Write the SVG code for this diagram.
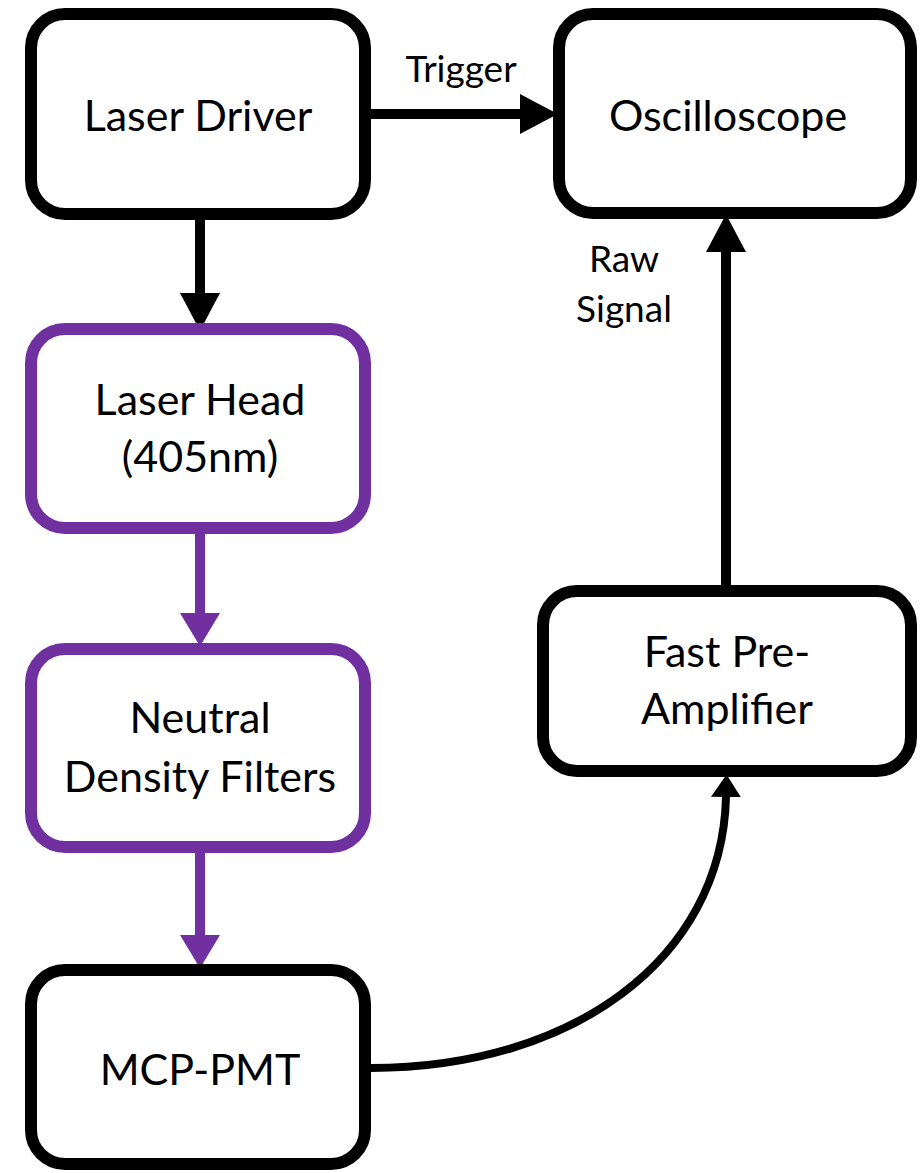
<svg xmlns="http://www.w3.org/2000/svg" width="924" height="1173" viewBox="0 0 924 1173">
<style>
.box{fill:#fff;stroke-width:12}
.blk{stroke:#000}
.pur{stroke:#7030a0}
text{font-family:"Lato","Open Sans","Liberation Sans",sans-serif;font-size:43px;fill:#000;text-anchor:middle}
.lbl{font-size:37px}
</style>
<defs>
<marker id="ahB" markerUnits="userSpaceOnUse" markerWidth="40" markerHeight="40" viewBox="0 0 36 36" refX="0" refY="18" orient="auto"><path d="M0,0 L34,18 L0,36 Z" fill="#000"/></marker>
<marker id="ahP" markerUnits="userSpaceOnUse" markerWidth="40" markerHeight="40" viewBox="0 0 36 36" refX="0" refY="18" orient="auto"><path d="M0,0 L30,18 L0,36 Z" fill="#7030a0"/></marker>
<marker id="ahS" markerUnits="userSpaceOnUse" markerWidth="30" markerHeight="30" viewBox="0 0 24 24" refX="0" refY="12" orient="auto"><path d="M0,0 L18,12 L0,24 Z" fill="#000"/></marker>
</defs>
<g id="connectors" fill="none">
<path d="M200,220 V293" stroke="#000" stroke-width="10" marker-end="url(#ahB)"/>
<path d="M371,114 H520" stroke="#000" stroke-width="10" marker-end="url(#ahB)"/>
<path d="M200,534 V613" stroke="#7030a0" stroke-width="10" marker-end="url(#ahP)"/>
<path d="M200,853 V935" stroke="#7030a0" stroke-width="10" marker-end="url(#ahP)"/>
<path d="M726,585 V252" stroke="#000" stroke-width="10" marker-end="url(#ahB)"/>
<path d="M371,1068 C571,1068 722,960 726,797" stroke="#000" stroke-width="8" marker-end="url(#ahS)"/>
<text class="lbl" x="461" y="82">Trigger</text>
<text class="lbl" x="624" y="272">Raw</text>
<text class="lbl" x="624" y="322">Signal</text>
</g>
<g id="laser-driver"><rect class="box blk" x="31" y="14" width="334" height="200" rx="34"/><text x="198" y="131">Laser Driver</text></g>
<g id="oscilloscope"><rect class="box blk" x="559" y="14" width="352" height="199" rx="34"/><text x="728" y="131">Oscilloscope</text></g>
<g id="laser-head"><rect class="box pur" x="31" y="329" width="334" height="199" rx="34"/><text x="200" y="415">Laser Head</text><text x="200" y="472">(405nm)</text></g>
<g id="nd-filters"><rect class="box pur" x="31" y="649" width="334" height="198" rx="34"/><text x="200" y="733">Neutral</text><text x="200" y="792">Density Filters</text></g>
<g id="mcp-pmt"><rect class="box blk" x="31" y="970" width="334" height="194" rx="34"/><text x="200" y="1085">MCP-PMT</text></g>
<g id="preamp"><rect class="box blk" x="543" y="591" width="368" height="180" rx="34"/><text x="727" y="667">Fast Pre-</text><text x="727" y="724">Amplifier</text></g>
</svg>
